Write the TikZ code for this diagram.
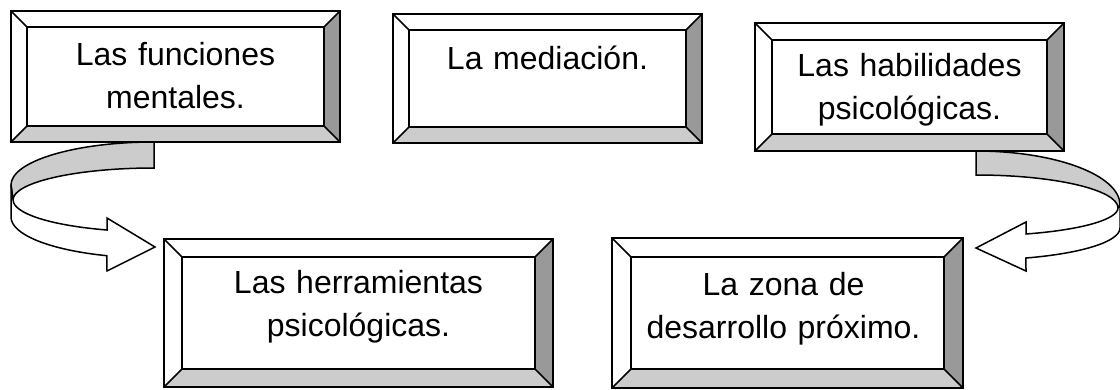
\documentclass[tikz,border=0pt]{standalone}
\usepackage{fontspec}
\setmainfont{Liberation Sans}
\usepackage{tikz}
\usetikzlibrary{calc}
\definecolor{grisclaro}{HTML}{CCCCCC}
\definecolor{grisoscuro}{HTML}{999999}
% bisel de un marco: #1 nombre del nodo, #2 ancho del bisel
\newcommand*\bisel[2]{
  \fill[grisoscuro] (#1.north east) -- (#1.south east) -- ($(#1.south east)+(-#2,-#2)$) -- ($(#1.north east)+(-#2,#2)$) -- cycle;
  \fill[grisclaro] (#1.south west) -- (#1.south east) -- ($(#1.south east)+(-#2,-#2)$) -- ($(#1.south west)+(#2,-#2)$) -- cycle;
  \draw (#1.north west) rectangle (#1.south east);
  \draw ($(#1.north west)+(#2,#2)$) rectangle ($(#1.south east)+(-#2,-#2)$);
  \draw (#1.north west) -- ++(#2,#2) (#1.north east) -- ++(-#2,#2)
        (#1.south east) -- ++(-#2,-#2) (#1.south west) -- ++(#2,-#2);}

\begin{document}
\begin{tikzpicture}[x=1pt,y=-1pt,line width=1.5pt,line join=miter,
  marco/.style={fill=white,inner sep=0pt,outer sep=0pt},
  texto/.style={anchor=base,inner sep=0pt,align=center,text width=300pt,
    font=\fontsize{32}{43}\selectfont},
  cinta/.style={draw,fill=grisclaro},
  frente/.style={draw,fill=white}]
  \useasboundingbox (0,0) rectangle (1120,389);
  % flechas curvas
  \coordinate (ini1) at (154,142);
  \coordinate (fin1) at (155,247);
  \coordinate (ini2) at (976,151);
  \coordinate (fin2) at (976,248);
  \filldraw[cinta](ini1)arc[start angle=270,end angle=180,x radius=143,y radius=43]--(13,200)
    arc[start angle=180,end angle=270,x radius=141,y radius=32]--cycle;
  \filldraw[frente](11,185)--(11,217)arc[start angle=180,end angle=109.2,x radius=143,y radius=41]
    --(107,271)--(fin1)--(107,218)--(107,230)
    arc[start angle=109.5,end angle=180,x radius=141,y radius=32]--cycle;
  \filldraw[cinta](ini2)arc[start angle=270,end angle=360,x radius=144,y radius=54]--(1118,208)
    arc[start angle=360,end angle=270,x radius=142,y radius=33]--cycle;
  \filldraw[frente](1120,205)--(1120,228)arc[start angle=0,end angle=69.7,x radius=144,y radius=32]
    --(1026,271)--(fin2)--(1026,222)--(1026,234)
    arc[start angle=69.4,end angle=0,x radius=142,y radius=28]--cycle;
  % marcos
  \node[marco,minimum width=329pt,minimum height=131pt](fun)at(175.5,76.5){};
  \node[marco,minimum width=309pt,minimum height=129pt](med)at(547.5,78.5){};
  \node[marco,minimum width=309pt,minimum height=128pt](hab)at(909.5,87){};
  \node[marco,minimum width=389pt,minimum height=148pt](her)at(358.5,313){};
  \node[marco,minimum width=351pt,minimum height=150pt](zon)at(787.5,313){};
  \bisel{fun}{16}
  \bisel{med}{16}
  \bisel{hab}{17}
  \bisel{her}{18}
  \bisel{zon}{19}
  \node[texto](fun-t)at($(fun.north)+(0,54)$){Las funciones\\mentales.};
  \node[texto](med-t)at($(med.north)+(0,55)$){La mediación.};
  \node[texto](hab-t)at($(hab.north)+(0,53)$){Las habilidades\\psicológicas.};
  \node[texto](her-t)at($(her.north)+(0,54)$){Las herramientas\\psicológicas.};
  \node[texto](zon-t)at($(zon.north)+(-4,57)$){La zona de\\desarrollo próximo.};
\end{tikzpicture}
\end{document}
